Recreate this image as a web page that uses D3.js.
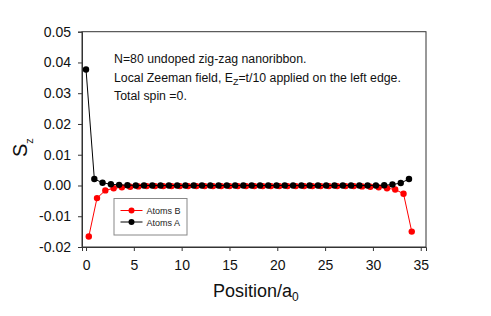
<!DOCTYPE html>
<html>
<head>
<meta charset="utf-8">
<script src="https://cdn.jsdelivr.net/npm/d3@7"></script>
<style>
  body { margin: 0; background: #fff; }
  svg { font-family: "Liberation Sans", Arial, sans-serif; }
</style>
</head>
<body>
<svg id="chart" width="491" height="316"></svg>
<script>
// positions (units of a0) and spin for each sublattice
var posA = [0, 0.87, 1.73, 2.60, 3.46, 4.33, 5.20, 6.06, 6.93, 7.79, 8.66, 9.53, 10.39, 11.26, 12.12, 12.99, 13.86, 14.72, 15.59, 16.45,
  17.32, 18.19, 19.05, 19.92, 20.78, 21.65, 22.52, 23.38, 24.25, 25.11, 25.98, 26.85, 27.71, 28.58, 29.44, 30.31, 31.18, 32.04, 32.91, 33.77];
var szA = [0.0377, 0.0021, 0.0009, 0.0004, 0.0002, 0.0001, 0, 0, 0, 0, 0, 0, 0, 0, 0, 0, 0, 0, 0, 0,
  0, 0, 0, 0, 0, 0, 0, 0, 0, 0, 0, 0, 0, 0, 0, 0, 0.0001, 0.0003, 0.0008, 0.0021];
var posB = [0.29, 1.15, 2.02, 2.89, 3.75, 4.62, 5.48, 6.35, 7.22, 8.08, 8.95, 9.81, 10.68, 11.55, 12.41, 13.28, 14.14, 15.01, 15.88, 16.74,
  17.61, 18.48, 19.34, 20.21, 21.07, 21.94, 22.81, 23.67, 24.54, 25.40, 26.27, 27.14, 28.00, 28.87, 29.73, 30.60, 31.47, 32.33, 33.20, 34.06];
var szB = [-0.0166, -0.0041, -0.0016, -0.0009, -0.0006, -0.0004, -0.0003, -0.0002, -0.0002, -0.0002, -0.0002, -0.0002, -0.0002, -0.0002, -0.0002, -0.0002, -0.0002, -0.0002, -0.0002, -0.0002,
  -0.0002, -0.0002, -0.0002, -0.0002, -0.0002, -0.0002, -0.0002, -0.0002, -0.0002, -0.0002, -0.0002, -0.0002, -0.0002, -0.0003, -0.0004, -0.0006, -0.0009, -0.0013, -0.0027, -0.015];
var xTicks = [0, 5, 10, 15, 20, 25, 30, 35];
var yTicks = [-0.02, -0.01, 0, 0.01, 0.02, 0.03, 0.04, 0.05];

var svg = d3.select("#chart");
var L = 82, R = 426, T = 31.7, B = 247;

var x = d3.scaleLinear().domain([-0.42, 35.55]).range([L, R]);
var y = d3.scaleLinear().domain([-0.02, 0.05]).range([B, T]);

// frame
svg.append("rect").attr("x", L).attr("y", T).attr("width", R - L).attr("height", B - T)
  .attr("fill", "none").attr("stroke", "#333").attr("stroke-width", 1);

var xAxis = svg.append("g").attr("transform", "translate(0," + B + ")")
  .call(d3.axisBottom(x).tickValues(xTicks).tickSize(4).tickPadding(9).tickFormat(d3.format("d")));
var yAxis = svg.append("g").attr("transform", "translate(" + L + ",0)")
  .call(d3.axisLeft(y).tickValues(yTicks).tickSize(4).tickPadding(7).tickFormat(d3.format(".2f")));
[xAxis, yAxis].forEach(function(a) {
  a.select(".domain").attr("stroke", "#333");
  a.selectAll(".tick line").attr("stroke", "#333");
  a.selectAll("text").attr("font-size", 14).attr("fill", "#111")
    .attr("font-family", "Liberation Sans, Arial, sans-serif");
});
yAxis.selectAll("text").text(function(d) { return d3.format(".2f")(d).replace("−", "-"); });

// series
function series(xs, ys, color) {
  var pts = xs.map(function(v, i) { return [v, ys[i]]; });
  svg.append("path").datum(pts)
    .attr("d", d3.line().x(function(d) { return x(d[0]); }).y(function(d) { return y(d[1]); }))
    .attr("fill", "none").attr("stroke", color).attr("stroke-width", 1);
  svg.append("g").selectAll("circle").data(pts).join("circle")
    .attr("cx", function(d) { return x(d[0]); })
    .attr("cy", function(d) { return y(d[1]); })
    .attr("r", 3.2).attr("fill", color);
}
series(posB, szB, "#ff0000");
series(posA, szA, "#000");

// annotation
var fs = 12.3;
svg.append("text").attr("font-size", fs).attr("fill", "#111").attr("x", 114).attr("y", 62.5)
  .text("N=80 undoped zig-zag nanoribbon.");
var l2 = svg.append("text").attr("font-size", fs).attr("fill", "#111").attr("x", 114).attr("y", 81.5);
l2.append("tspan").text("Local Zeeman field, E");
l2.append("tspan").attr("font-size", 9).attr("dy", 3).text("Z");
l2.append("tspan").attr("dy", -3).text("=t/10 applied on the left edge.");
svg.append("text").attr("font-size", fs).attr("fill", "#111").attr("x", 114).attr("y", 100)
  .text("Total spin =0.");

// legend
var lg = svg.append("g");
lg.append("rect").attr("x", 114).attr("y", 198.5).attr("width", 73).attr("height", 36.5)
  .attr("fill", "#fff").attr("stroke", "#888").attr("stroke-width", 1);
[["Atoms B", "#ff0000", 211], ["Atoms A", "#000", 222.5]].forEach(function(e) {
  lg.append("line").attr("x1", 120.5).attr("x2", 142.5).attr("y1", e[2] - 0.5).attr("y2", e[2] - 0.5)
    .attr("stroke", e[1]).attr("stroke-width", 1);
  lg.append("circle").attr("cx", 131.5).attr("cy", e[2] - 0.5).attr("r", 3).attr("fill", e[1]);
  lg.append("text").attr("x", 146.5).attr("y", e[2] + 3).attr("font-size", 9).attr("fill", "#222").text(e[0]);
});

// axis titles
var xt = svg.append("text").attr("x", 213).attr("y", 296.5).attr("font-size", 18).attr("fill", "#111");
xt.append("tspan").text("Position/a");
xt.append("tspan").attr("font-size", 12).attr("dy", 4).text("0");

var yt = svg.append("text").attr("transform", "translate(26.5,157) rotate(-90)").attr("font-size", 20).attr("fill", "#111");
yt.append("tspan").text("S");
yt.append("tspan").attr("font-size", 11).attr("dy", 6.5).text("z");
</script>
</body>
</html>
